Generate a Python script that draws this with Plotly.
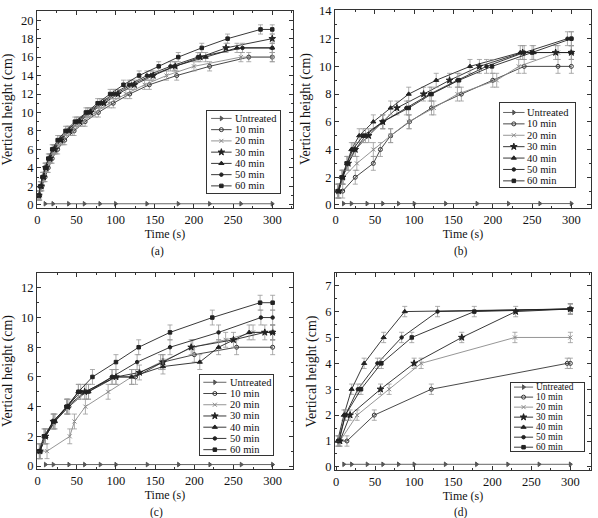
import plotly.graph_objects as go

FONT = "Liberation Serif"

names = ["Untreated", "10 min", "20 min", "30 min", "40 min", "50 min", "60 min"]

# ---- shared untreated baseline ----
untreated_t = [10, 20, 40, 60, 80, 100, 140, 180, 220, 260, 300]
untreated_h = [0.1, 0.1, 0.1, 0.1, 0.1, 0.1, 0.1, 0.1, 0.1, 0.1, 0.1]

# ---- panel (a) ----
a10_t = [3, 6, 10, 14, 19, 26, 35, 47, 61, 78, 97, 118, 143, 178, 220, 270, 300]
a10_h = [1, 2, 3, 4, 5, 6, 7, 8, 9, 10, 11, 12, 13, 14, 15, 16, 16]
a20_t = [3, 5, 9, 13, 18, 24, 33, 45, 58, 74, 92, 113, 137, 165, 200, 260, 300]
a20_h = [1, 2, 3, 4, 5, 6, 7, 8, 9, 10, 11, 12, 13, 14, 15, 16, 16]
a30_t = [2, 5, 8, 11, 16, 22, 30, 41, 54, 68, 85, 103, 124, 148, 176, 208, 241, 300]
a30_h = [1, 2, 3, 4, 5, 6, 7, 8, 9, 10, 11, 12, 13, 14, 15, 16, 17, 18]
a40_t = [2, 4, 7, 11, 16, 21, 29, 40, 52, 66, 82, 100, 120, 145, 175, 215, 255, 300]
a40_h = [1, 2, 3, 4, 5, 6, 7, 8, 9, 10, 11, 12, 13, 14, 15, 16, 17, 17]
a50_t = [2, 4, 7, 10, 15, 20, 28, 38, 50, 64, 80, 97, 117, 140, 170, 205, 262, 300]
a50_h = [1, 2, 3, 4, 5, 6, 7, 8, 9, 10, 11, 12, 13, 14, 15, 16, 17, 17]
a60_t = [2, 4, 7, 10, 14, 19, 26, 36, 48, 62, 77, 93, 110, 130, 155, 180, 210, 243, 285, 300]
a60_h = [1, 2, 3, 4, 5, 6, 7, 8, 9, 10, 11, 12, 13, 14, 15, 16, 17, 18, 19, 19]

# ---- panel (b) ----
b10_t = [3, 9, 25, 48, 57, 70, 94, 122, 160, 200, 240, 283, 300]
b10_h = [1, 1, 2, 3, 4, 5, 6, 7, 8, 9, 10, 10, 10]
b20_t = [3, 10, 27, 48, 70, 93, 125, 155, 205, 233, 283, 300]
b20_h = [1, 2, 3, 4, 5, 6, 7, 8, 9, 10, 11, 11]
b30_t = [4, 9, 16, 25, 42, 60, 78, 112, 145, 183, 238, 280, 300]
b30_h = [1, 2, 3, 4, 5, 6, 7, 8, 9, 10, 11, 11, 11]
b40_t = [3, 8, 15, 20, 30, 48, 70, 93, 128, 171, 235, 252, 300]
b40_h = [1, 2, 3, 4, 5, 6, 7, 8, 9, 10, 11, 11, 11]
b50_t = [4, 9, 16, 25, 38, 60, 90, 120, 155, 192, 240, 295, 300]
b50_h = [1, 2, 3, 4, 5, 6, 7, 8, 9, 10, 11, 12, 12]
b60_t = [3, 8, 14, 22, 35, 60, 93, 122, 157, 199, 250, 300]
b60_h = [1, 2, 3, 4, 5, 6, 7, 8, 9, 10, 11, 12]

# ---- panel (c) ----
c10_t = [3, 10, 22, 40, 62, 95, 125, 160, 200, 254, 300]
c10_h = [1, 2, 3, 4, 5, 6, 6, 7, 7.5, 8, 8]
c20_t = [3, 12, 41, 47, 61, 90, 120, 157, 198, 240, 275, 300]
c20_h = [1, 1, 2, 3, 4, 5, 6, 7, 8, 8.5, 9, 9]
c30_t = [3, 10, 20, 38, 60, 100, 130, 160, 196, 250, 290, 300]
c30_h = [1, 2, 3, 4, 5, 6, 6.3, 7, 8, 8.5, 9, 9]
c40_t = [3, 10, 22, 38, 52, 65, 100, 120, 160, 207, 231, 270, 300]
c40_h = [1, 2, 3, 4, 5, 5, 6, 6, 6.7, 7, 8, 9, 9]
c50_t = [3, 9, 20, 37, 55, 65, 95, 127, 169, 231, 285, 300]
c50_h = [1, 2, 3, 4, 5, 5, 6, 7, 8, 9, 10, 10]
c60_t = [2, 8, 20, 37, 52, 70, 100, 129, 169, 223, 284, 300]
c60_h = [1, 2, 3, 4, 5, 6, 7, 8, 9, 10, 11, 11]

# ---- panel (d) ----
d10_t = [3, 14, 49, 122, 296, 300]
d10_h = [1, 1, 2, 3, 4, 4]
d20_t = [5, 27, 68, 109, 229, 300]
d20_h = [1, 2, 3, 4, 5, 5]
d30_t = [5, 18, 57, 100, 161, 230, 300]
d30_h = [1, 2, 3, 4, 5, 6, 6.1]
d40_t = [2, 10, 20, 36, 61, 88, 300]
d40_h = [1, 2, 3, 4, 5, 6, 6.1]
d50_t = [3, 12, 28, 53, 84, 130, 300]
d50_h = [1, 2, 3, 4, 5, 6, 6.1]
d60_t = [4, 12, 32, 58, 97, 177, 300]
d60_h = [1, 2, 3, 4, 5, 6, 6.1]

errors = [0.5, 0.5, 0.5, 0.2]
panel_labels = ["(a)", "(b)", "(c)", "(d)"]

series = [
    [(untreated_t, untreated_h), (a10_t, a10_h), (a20_t, a20_h), (a30_t, a30_h),
     (a40_t, a40_h), (a50_t, a50_h), (a60_t, a60_h)],
    [(untreated_t, untreated_h), (b10_t, b10_h), (b20_t, b20_h), (b30_t, b30_h),
     (b40_t, b40_h), (b50_t, b50_h), (b60_t, b60_h)],
    [(untreated_t, untreated_h), (c10_t, c10_h), (c20_t, c20_h), (c30_t, c30_h),
     (c40_t, c40_h), (c50_t, c50_h), (c60_t, c60_h)],
    [(untreated_t, untreated_h), (d10_t, d10_h), (d20_t, d20_h), (d30_t, d30_h),
     (d40_t, d40_h), (d50_t, d50_h), (d60_t, d60_h)],
]

# ---- styles / layout ----
W, H = 598, 518
symbols = ["triangle-right", "circle-open", "x-thin", "star", "triangle-up", "circle", "square"]
msizes = [4, 4, 4, 5, 4.5, 3.5, 3.5]
lcolors = ["#555555", "#333333", "#8a8a8a", "#222222", "#222222", "#222222", "#222222"]

# plot frames in pixels (left, right, top, bottom)
frames = [(37, 293, 11, 208), (335, 591, 10, 208), (37, 293, 273, 469), (335, 591, 273, 470)]
xranges = [[-0.4, 326.5], [-0.8, 325], [-0.8, 326], [-1.3, 326.4]]
yranges = [[-0.36, 21.0], [-0.22, 14.07], [-0.2, 13.0], [-0.12, 7.49]]
ydticks = [2, 2, 2, 1]
# legend boxes: (left, right, top, bottom) px; sample x0, x1, text x (relative); first/last row rel from top
legboxes = [(206.7, 280, 111, 193.3), (499.7, 575, 103.3, 186.7), (200, 273.3, 374.7, 455.3), (511.3, 584, 383, 451.3)]
legsample = [(0.06, 0.34, 0.37), (0.045, 0.33, 0.355), (0.045, 0.36, 0.39), (0.037, 0.30, 0.32)]
legrows = [(0.09, 0.91), (0.11, 0.93), (0.094, 0.93), (0.06, 0.94)]
legfont = [10.5, 10.5, 10.5, 9.5]
label_pos = [(157, 251), (461, 251), (156, 512), (461, 512)]


def px_dom_x(a, b):
    return [a / W, b / W]


def px_dom_y(top, bottom):
    return [1 - bottom / H, 1 - top / H]


fig = go.Figure()
layout = dict(
    width=W, height=H, margin=dict(l=0, r=0, t=0, b=0),
    paper_bgcolor="white", plot_bgcolor="rgba(0,0,0,0)",
    showlegend=False, font=dict(family=FONT, color="#111", size=12),
)
annotations = []

for p in range(4):
    n = p + 1
    xa, ya = f"x{n}", f"y{n}"
    for i, (t, h) in enumerate(series[p]):
        err = None if i == 0 else dict(type="constant", value=errors[p], color="#999999",
                                         thickness=0.8, width=2.5)
        fig.add_trace(go.Scatter(
            x=t, y=h, xaxis=xa, yaxis=ya, mode="lines+markers", name=names[i],
            line=dict(color=lcolors[i], width=0.9),
            marker=dict(symbol=symbols[i], size=msizes[i], color=lcolors[i],
                        line=dict(width=1, color=lcolors[i])),
            error_y=err, showlegend=False,
        ))
    l, r, tp, bt = frames[p]
    axis_common = dict(showline=True, linecolor="#333", linewidth=1, mirror="ticks",
                       ticks="inside", ticklen=4, tickcolor="#333", showgrid=False,
                       zeroline=False, automargin=False,
                       tickfont=dict(family=FONT, size=12.5, color="#111"))
    layout[f"xaxis{n}"] = dict(
        domain=px_dom_x(l, r), anchor=ya, range=xranges[p], tick0=0, dtick=50,
        title=dict(text="Time (s)", font=dict(family=FONT, size=12), standoff=3),
        minor=dict(ticks="inside", ticklen=2, dtick=25, tickcolor="#333", showgrid=False),
        **axis_common)
    layout[f"yaxis{n}"] = dict(
        domain=px_dom_y(tp, bt), anchor=xa, range=yranges[p], tick0=0, dtick=ydticks[p],
        title=dict(text="Vertical height (cm)", font=dict(family=FONT, size=14), standoff=5),
        minor=dict(ticks="inside", ticklen=2, dtick=ydticks[p] / 2, tickcolor="#333", showgrid=False),
        **axis_common)

    # legend box drawn on an overlay subplot
    ln = n + 4
    lxa, lya = f"x{ln}", f"y{ln}"
    bl, br, btop, bbot = legboxes[p]
    r0, r6 = legrows[p]
    span = 6 / (r6 - r0)
    ymin = -(1 - r6) * span
    layout[f"xaxis{ln}"] = dict(domain=px_dom_x(bl, br), anchor=lya, range=[0, 1],
                                showline=True, mirror=True, linecolor="#333", linewidth=1,
                                showticklabels=False, ticks="", showgrid=False, zeroline=False,
                                automargin=False, fixedrange=True)
    layout[f"yaxis{ln}"] = dict(domain=px_dom_y(btop, bbot), anchor=lxa, range=[ymin, ymin + span],
                                showline=True, mirror=True, linecolor="#333", linewidth=1,
                                showticklabels=False, ticks="", showgrid=False, zeroline=False,
                                automargin=False, fixedrange=True)
    sx0, sx1, tx = legsample[p]
    for i, name in enumerate(names):
        row = 6 - i
        fig.add_trace(go.Scatter(
            x=[sx0, sx1], y=[row, row], xaxis=lxa, yaxis=lya, mode="lines",
            line=dict(color=lcolors[i], width=0.9), showlegend=False, hoverinfo="skip"))
        fig.add_trace(go.Scatter(
            x=[(sx0 + sx1) / 2], y=[row], xaxis=lxa, yaxis=lya, mode="markers",
            marker=dict(symbol=symbols[i], size=msizes[i], color=lcolors[i],
                        line=dict(width=1, color=lcolors[i])),
            showlegend=False, hoverinfo="skip"))
        annotations.append(dict(xref=lxa, yref=lya, x=tx, y=row, text=name, showarrow=False,
                                xanchor="left", yanchor="middle", borderpad=0,
                                font=dict(family=FONT, size=legfont[p], color="#111")))
    lx, ly = label_pos[p]
    annotations.append(dict(xref="paper", yref="paper", x=lx / W, y=1 - ly / H,
                            text=panel_labels[p], showarrow=False, xanchor="center",
                            yanchor="middle", borderpad=0,
                            font=dict(family=FONT, size=11.5, color="#111")))

layout["annotations"] = annotations
fig.update_layout(**layout)
fig.write_html("out.html")
